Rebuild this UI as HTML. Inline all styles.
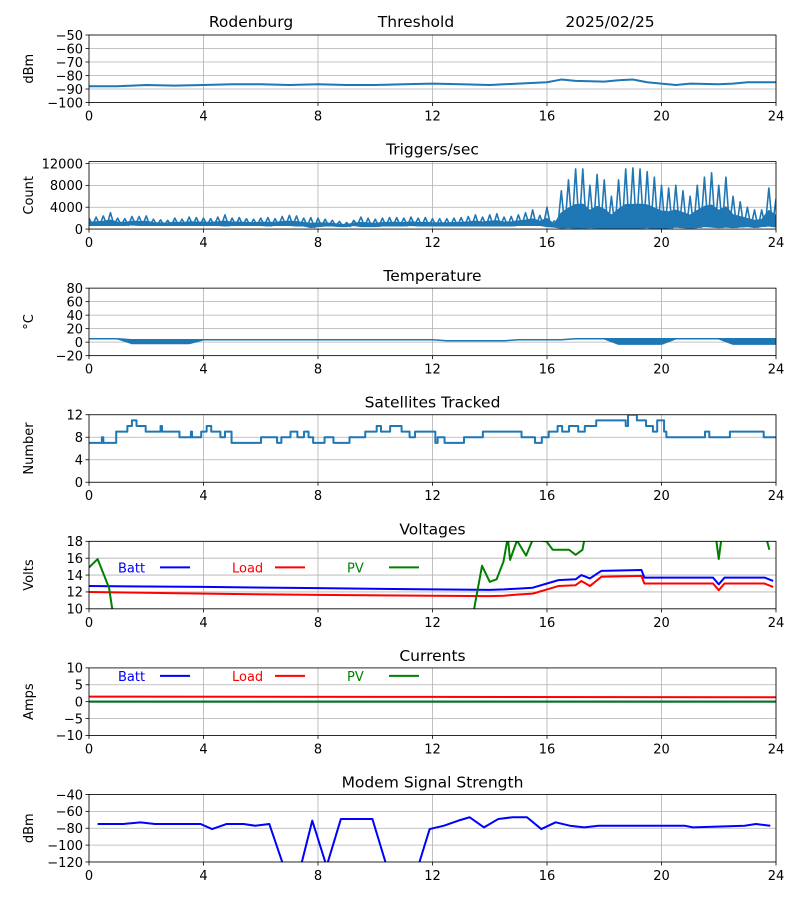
<!DOCTYPE html>
<html><head><meta charset="utf-8"><style>
body{margin:0;background:#fff;}
svg{display:block;font-family:"DejaVu Sans","Liberation Sans",sans-serif;}
</style></head><body>
<svg id="c" width="800" height="900" viewBox="0 0 800 900">
<rect width="800" height="900" fill="#fff"/>
<text x="251" y="27" font-size="15.5" text-anchor="middle">Rodenburg</text>
<text x="416" y="27" font-size="15.5" text-anchor="middle">Threshold</text>
<text x="610" y="27" font-size="15.5" text-anchor="middle">2025/02/25</text>
</svg>
<script>
const xTicks=[0,4,8,12,16,20,24];
// Panel 1 threshold dBm
const thrHours=[0,1,2,3,4,5,6,7,8,9,10,11,12,13,14,15,16,16.5,17,18,18.5,19,19.5,20,20.5,21,22,22.5,23,24];
const thrVals=[-88,-88,-87,-87.5,-87,-86.5,-86.5,-87,-86.5,-87,-87,-86.5,-86,-86.5,-87,-86,-85,-83,-84,-84.5,-83.5,-83,-85,-86,-87,-86,-86.5,-86,-85,-85];
// Panel 2 triggers: min/max envelope every 0.25h
const trigMax=[2000,2200,2400,3000,2000,1900,2300,2300,2400,1800,1700,1600,2000,1800,2200,2100,2000,1900,2200,2600,2000,2100,1900,1800,2000,2100,1900,2300,2500,2400,2000,2100,2000,1800,1600,1400,1200,1600,2200,2000,1800,2000,2100,2100,2000,2200,2000,2100,1900,1900,1900,2000,2100,2300,2600,2200,2600,2800,2200,2300,2600,3000,3500,2500,4000,
1500,7000,9000,11000,11000,8000,10000,9000,6000,9000,11000,11200,11000,10500,9500,8000,7500,8000,7000,6000,8000,9500,10300,8000,9500,6000,5000,4000,3500,3500,7500,5500,3000];
const trigMin=[700,700,700,700,700,700,800,700,700,700,700,700,700,700,700,700,700,700,700,600,700,700,700,700,700,600,700,700,700,600,600,300,500,600,600,500,500,700,500,500,500,600,600,600,600,700,600,600,600,600,600,600,600,600,600,600,600,600,600,600,700,700,700,700,500,
400,200,300,100,200,300,200,0,200,0,100,0,200,300,0,100,200,400,300,200,300,500,400,300,400,300,400,500,300,500,600,400,300];
// Panel 3 temperature: min/max every 0.5h
const tempMax=[5,5,5,3.5,3.5,3.5,3.5,3.5,3.5,3.5,3.5,3.5,3.5,3.5,3.5,3.5,3.5,3.5,3.5,3.5,3.5,3.5,3.5,3.5,3.5,2,2,2,2,2,3.5,3.5,3.5,3.5,5,5,5,5,5,5,5,5,5,5,5,5,5,5,5];
const tempMin=[5,5,5,-2,-2,-2,-2,-2,3.5,3.5,3.5,3.5,3.5,3.5,3.5,3.5,3.5,3.5,3.5,3.5,3.5,3.5,3.5,3.5,3.5,2,2,2,2,2,3.5,3.5,3.5,3.5,5,5,5,-3,-3,-3,-3,5,5,5,5,-3,-3,-3,-3];
// Panel 4 satellites step series: change times and levels
const satHours=[0,0.45,0.5,0.95,1.34,1.50,1.66,1.98,2.5,2.55,2.61,3.16,3.56,3.6,3.92,4.11,4.27,4.59,4.75,4.98,6.01,6.57,6.72,7.04,7.28,7.51,7.67,7.83,8.23,8.54,9.10,9.65,10.05,10.20,10.52,10.92,11.20,11.39,12.10,12.18,12.42,13.10,13.76,15.11,15.58,15.82,16.06,16.37,16.53,16.77,17.09,17.32,17.72,18.75,18.83,19.14,19.46,19.70,19.85,20.09,20.17,21.52,21.67,22.39,23.57];
const satVals=[7,8,7,9,10,11,10,9,10,9,9,8,9,8,9,10,9,8,9,7,8,7,8,9,8,9,8,7,8,7,8,9,10,9,10,9,8,9,7,8,7,8,9,8,7,8,9,10,9,10,9,10,11,10,12,11,10,9,11,9,8,9,8,9,8,7];
// Panel 5 voltages
const battH=[0,4,8,12,14,14.5,15,15.5,16,16.4,17,17.2,17.5,17.9,19.3,19.4,21.8,22,22.2,23.6,23.9];
const battV=[12.7,12.6,12.45,12.3,12.25,12.3,12.4,12.5,13.0,13.4,13.5,14.0,13.6,14.5,14.6,13.7,13.7,12.9,13.7,13.7,13.3];
const loadV=[12.0,11.8,11.65,11.55,11.5,11.55,11.7,11.8,12.3,12.7,12.8,13.3,12.7,13.8,13.9,13.0,13.0,12.2,13.0,13.0,12.6];
const pvH=[0,0.3,0.7,0.9,6,13.4,13.73,14.0,14.24,14.48,14.63,14.71,14.95,15.27,15.5,15.98,16.2,16.77,17.0,17.24,17.32,18,21.9,22.0,22.1,23,23.65,23.77];
const pvV=[14.9,15.9,12.5,8,5,9,15.1,13.2,13.5,15.6,18.5,15.8,18.1,16.3,18.2,18.0,17.0,17.0,16.4,17.0,18.5,20,18.5,15.9,18.5,20,18.5,17.0];
// Panel 6 currents
const curH=[0,12,24];
const battA=[0,0,0];
const loadA=[1.5,1.4,1.3];
const pvA=[0,0,0];
// Panel 7 modem signal
const modH=[0.3,1.2,1.8,2.3,3.0,3.9,4.3,4.8,5.4,5.8,6.3,6.8,7.4,7.8,8.3,8.8,9.9,10.4,11.5,11.9,12.4,12.9,13.3,13.8,14.3,14.8,15.3,15.8,16.3,16.8,17.3,17.8,20.8,21.1,22.9,23.3,23.8];
const modV=[-75,-75,-73,-75,-75,-75,-81,-75,-75,-77,-75,-125,-125,-71,-125,-69,-69,-125,-125,-81,-77,-71,-67,-79,-69,-67,-67,-81,-73,-77,-79,-77,-77,-79,-77,-75,-77];

const NS='http://www.w3.org/2000/svg';
const svg=document.getElementById('c');
const X0=89,X1=776,PH=67.5;
function fmt(t){return String(t).replace('-','\u2212');}
function mk(tag,attrs,parent){const e=document.createElementNS(NS,tag);for(const k in attrs)e.setAttribute(k,attrs[k]);(parent||svg).appendChild(e);return e;}
const xs=h=>X0+(h/24)*(X1-X0);
function panel(i,title,ylabel,ymin,ymax,yTicks,name){
  const top=35+i*126.58,bot=top+PH;
  const ys=v=>bot-(v-ymin)/(ymax-ymin)*PH;
  const g=mk('g',{});
  
  
  const cid='clip'+i;
  const cp=mk('clipPath',{id:cid},g);mk('rect',{x:X0,y:top,width:X1-X0,height:PH},cp);
  xTicks.forEach(t=>{const l=mk('line',{x1:xs(t),x2:xs(t),y1:top,y2:bot,stroke:'#b0b0b0','stroke-width':0.8},g);
    
    mk('line',{x1:xs(t),x2:xs(t),y1:bot,y2:bot+3.5,stroke:'#000','stroke-width':0.8},g);
    const tx=mk('text',{x:xs(t),y:bot+18,'font-size':13,'text-anchor':'middle'},g);tx.textContent=fmt(t);
    });
  yTicks.forEach(t=>{const y=ys(t);const l=mk('line',{x1:X0,x2:X1,y1:y,y2:y,stroke:'#b0b0b0','stroke-width':0.8},g);
    
    mk('line',{x1:X0-3.5,x2:X0,y1:y,y2:y,stroke:'#000','stroke-width':0.8},g);
    const tx=mk('text',{x:X0-6,y:y+4.8,'font-size':13,'text-anchor':'end'},g);tx.textContent=fmt(t);
    });
  if(title){const tt=mk('text',{x:(X0+X1)/2,y:top-7,'font-size':15.5,'text-anchor':'middle'},g);tt.textContent=title;
    }
  const yl=mk('text',{x:0,y:0,'font-size':13,'text-anchor':'middle',transform:`translate(33,${(top+bot)/2}) rotate(-90)`},g);yl.textContent=ylabel;
  
  const plot=mk('g',{'clip-path':`url(#${cid})`},g);
  const frame=()=>{const f=mk('rect',{x:X0,y:top,width:X1-X0,height:PH,fill:'none',stroke:'#000','stroke-width':0.8},g);
    };
  return {plot,ys,top,bot,frame,g};
}
function line(p,hs,vs,color,w,name,step){
  let d='';hs.forEach((h,k)=>{const x=xs(h),y=p.ys(vs[k]);
    if(k===0)d+=`M${x},${y}`;else if(step)d+=`H${x}V${y}`;else d+=`L${x},${y}`;});
  if(step)d+=`H${xs(24)}`;
  const e=mk('path',{d,fill:'none',stroke:color,'stroke-width':w,'stroke-linejoin':'round'},p.plot);
  
}
function zig(p,mins,maxs,dh,color,name){
  // solid core band (lower part of each min-max range) plus spikes to each max
  let d='';maxs.forEach((v,k)=>{const core=mins[k]+(v-mins[k])*0.4;d+=(k?'L':'M')+xs(k*dh)+','+p.ys(core);});
  for(let k=mins.length-1;k>=0;k--)d+='L'+xs(k*dh)+','+p.ys(mins[k]);
  d+='Z';
  const b=mk('path',{d,fill:color,stroke:color,'stroke-width':1.5,'stroke-linejoin':'round'},p.plot);
  
  let z='';maxs.forEach((v,k)=>{const h=k*dh;
    z+=(k?'L':'M')+xs(h)+','+p.ys(v)+'L'+xs(h+dh*0.5)+','+p.ys(mins[k]);});
  const e=mk('path',{d:z,fill:'none',stroke:color,'stroke-width':1.6,'stroke-linejoin':'round'},p.plot);
  
}
function band(p,mins,maxs,dh,color,name){
  let d='';maxs.forEach((v,k)=>{d+=(k?'L':'M')+xs(k*dh)+','+p.ys(v);});
  for(let k=mins.length-1;k>=0;k--)d+='L'+xs(k*dh)+','+p.ys(mins[k]);
  d+='Z';
  const e=mk('path',{d,fill:color,stroke:color,'stroke-width':1.5,'stroke-linejoin':'round'},p.plot);
  
}
function legend(p,y){
  [['Batt','#0000ff',118,160],['Load','#ff0000',232,275],['PV','#008000',347,389]].forEach(([t,c,tx,lx])=>{
    const e=mk('text',{x:tx,y:y+5,'font-size':13,fill:c},p.g);e.textContent=t;
    
    mk('line',{x1:lx,x2:lx+30,y1:y,y2:y,stroke:c,'stroke-width':2},p.g);
  });
}
let p;
p=panel(0,'','dBm',-100,-50,[-100,-90,-80,-70,-60,-50],'threshold');
line(p,thrHours,thrVals,'#1f77b4',2,'threshold-line');p.frame();
p=panel(1,'Triggers/sec','Count',0,12350,[0,4000,8000,12000],'triggers');
zig(p,trigMin,trigMax,0.25,'#1f77b4','triggers-series');p.frame();
p=panel(2,'Temperature','°C',-20,80,[-20,0,20,40,60,80],'temperature');
band(p,tempMin,tempMax,0.5,'#1f77b4','temperature-series');p.frame();
p=panel(3,'Satellites Tracked','Number',0,12,[0,4,8,12],'satellites');
line(p,satHours,satVals,'#1f77b4',2,'satellites-line',true);p.frame();
p=panel(4,'Voltages','Volts',10,18,[10,12,14,16,18],'voltages');
line(p,battH,battV,'#0000ff',2,'batt-voltage-line');
line(p,battH,loadV,'#ff0000',2,'load-voltage-line');
line(p,pvH,pvV,'#008000',2,'pv-voltage-line');p.frame();legend(p,p.top+26);
p=panel(5,'Currents','Amps',-10,10,[-10,-5,0,5,10],'currents');
line(p,curH,battA,'#0000ff',2,'batt-current-line');
line(p,curH,loadA,'#ff0000',2,'load-current-line');
line(p,curH,pvA,'#008000',2,'pv-current-line');p.frame();legend(p,p.top+8);
p=panel(6,'Modem Signal Strength','dBm',-120,-40,[-120,-100,-80,-60,-40],'modem');
line(p,modH,modV,'#0000ff',2,'modem-signal-line');p.frame();
</script>
</body></html>
